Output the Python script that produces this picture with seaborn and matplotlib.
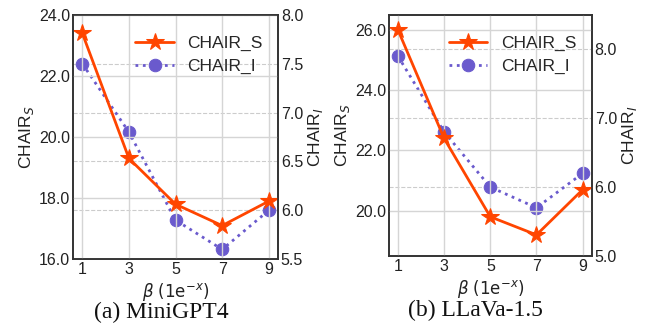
import matplotlib
matplotlib.use("Agg")
import matplotlib.pyplot as plt
import seaborn as sns
import pandas as pd

# beta exponents on the x axis
betas = [1, 3, 5, 7, 9]

# (a) MiniGPT4
mini_chair_s = [23.4, 19.3, 17.8, 17.1, 17.9]
mini_chair_i = [7.5, 6.8, 5.9, 5.6, 6.0]

# (b) LLaVa-1.5
llava_chair_s = [26.0, 22.4, 19.8, 19.2, 20.7]
llava_chair_i = [7.9, 6.8, 6.0, 5.7, 6.2]

captions = ["(a) MiniGPT4", "(b) LLaVa-1.5"]

sns.set_theme(style="whitegrid")
plt.rcParams['font.family'] = ['Liberation Sans', 'DejaVu Sans']
plt.rcParams['mathtext.fontset'] = 'dejavusans'

fig = plt.figure(figsize=(6.49, 3.24), dpi=100)

S_COLOR = '#ff4500'
I_COLOR = '#6a5acd'
SPINE = '#333333'


def draw_panel(rect, chair_s, chair_i, s_lim, s_ticks, i_lim, i_ticks, caption, cap_xy):
    ax = fig.add_axes(rect)
    df = pd.DataFrame({'beta': betas, 'chair_s': chair_s, 'chair_i': chair_i})
    sns.lineplot(data=df, x='beta', y='chair_s', ax=ax, color=S_COLOR, marker='*',
                 markersize=13, linewidth=2, markeredgecolor=S_COLOR, label='CHAIR_S',
                 legend=False)
    ax2 = ax.twinx()
    sns.lineplot(data=df, x='beta', y='chair_i', ax=ax2, color=I_COLOR, marker='o',
                 markersize=9, linewidth=2, linestyle=':', markeredgecolor=I_COLOR,
                 label='CHAIR_I', legend=False)

    ax.set_xlim(0.6, 9.4)
    ax.set_xticks(betas)
    ax.set_ylim(*s_lim)
    ax.set_yticks(s_ticks)
    ax.set_yticklabels([f'{t:.1f}' for t in s_ticks])
    ax2.set_ylim(*i_lim)
    ax2.set_yticks(i_ticks)
    ax2.set_yticklabels([f'{t:.1f}' for t in i_ticks])

    ax.grid(True, color='#d5d5d5', linewidth=1, linestyle='-')
    ax2.grid(True, axis='y', color='#cccccc', linewidth=0.8, linestyle='--')
    ax2.grid(False, axis='x')

    for a in (ax, ax2):
        for sp in a.spines.values():
            sp.set_color(SPINE)
            sp.set_linewidth(1.2)
        a.tick_params(labelsize=11.5, colors='#222222', pad=2, length=0)

    ax.set_xlabel(r'$\beta$ (1e$^{-x}$)', fontsize=12, labelpad=3, color='#222222',
                  family='DejaVu Sans')
    ax.set_ylabel(r'CHAIR$_S$', fontsize=12.5, labelpad=2, color='#222222')
    ax2.set_ylabel(r'CHAIR$_I$', fontsize=12.5, labelpad=2, color='#222222')

    lines = ax.get_lines() + ax2.get_lines()
    ax.legend(lines, ['CHAIR_S', 'CHAIR_I'], loc='upper right', frameon=False,
              fontsize=12.5, handlelength=2.2, borderaxespad=0.3, labelspacing=0.45,
              bbox_to_anchor=(0.985, 0.965))
    ax.set_zorder(ax2.get_zorder() + 1)
    ax.patch.set_visible(False)

    fig.text(cap_xy[0], cap_xy[1], caption, ha='center', va='baseline',
             fontsize=17, family='Liberation Serif', color='#111111')


draw_panel([0.1125, 0.2, 0.316, 0.754], mini_chair_s, mini_chair_i,
           (16.0, 24.0), [16.0, 18.0, 20.0, 22.0, 24.0],
           (5.5, 8.0), [5.5, 6.0, 6.5, 7.0, 7.5, 8.0], captions[0], (0.248, 0.017))
draw_panel([0.599, 0.21, 0.313, 0.744], llava_chair_s, llava_chair_i,
           (18.5, 26.5), [20.0, 22.0, 24.0, 26.0],
           (5.0, 8.5), [5.0, 6.0, 7.0, 8.0], captions[1], (0.733, 0.026))

fig.savefig('out.png', dpi=100)
